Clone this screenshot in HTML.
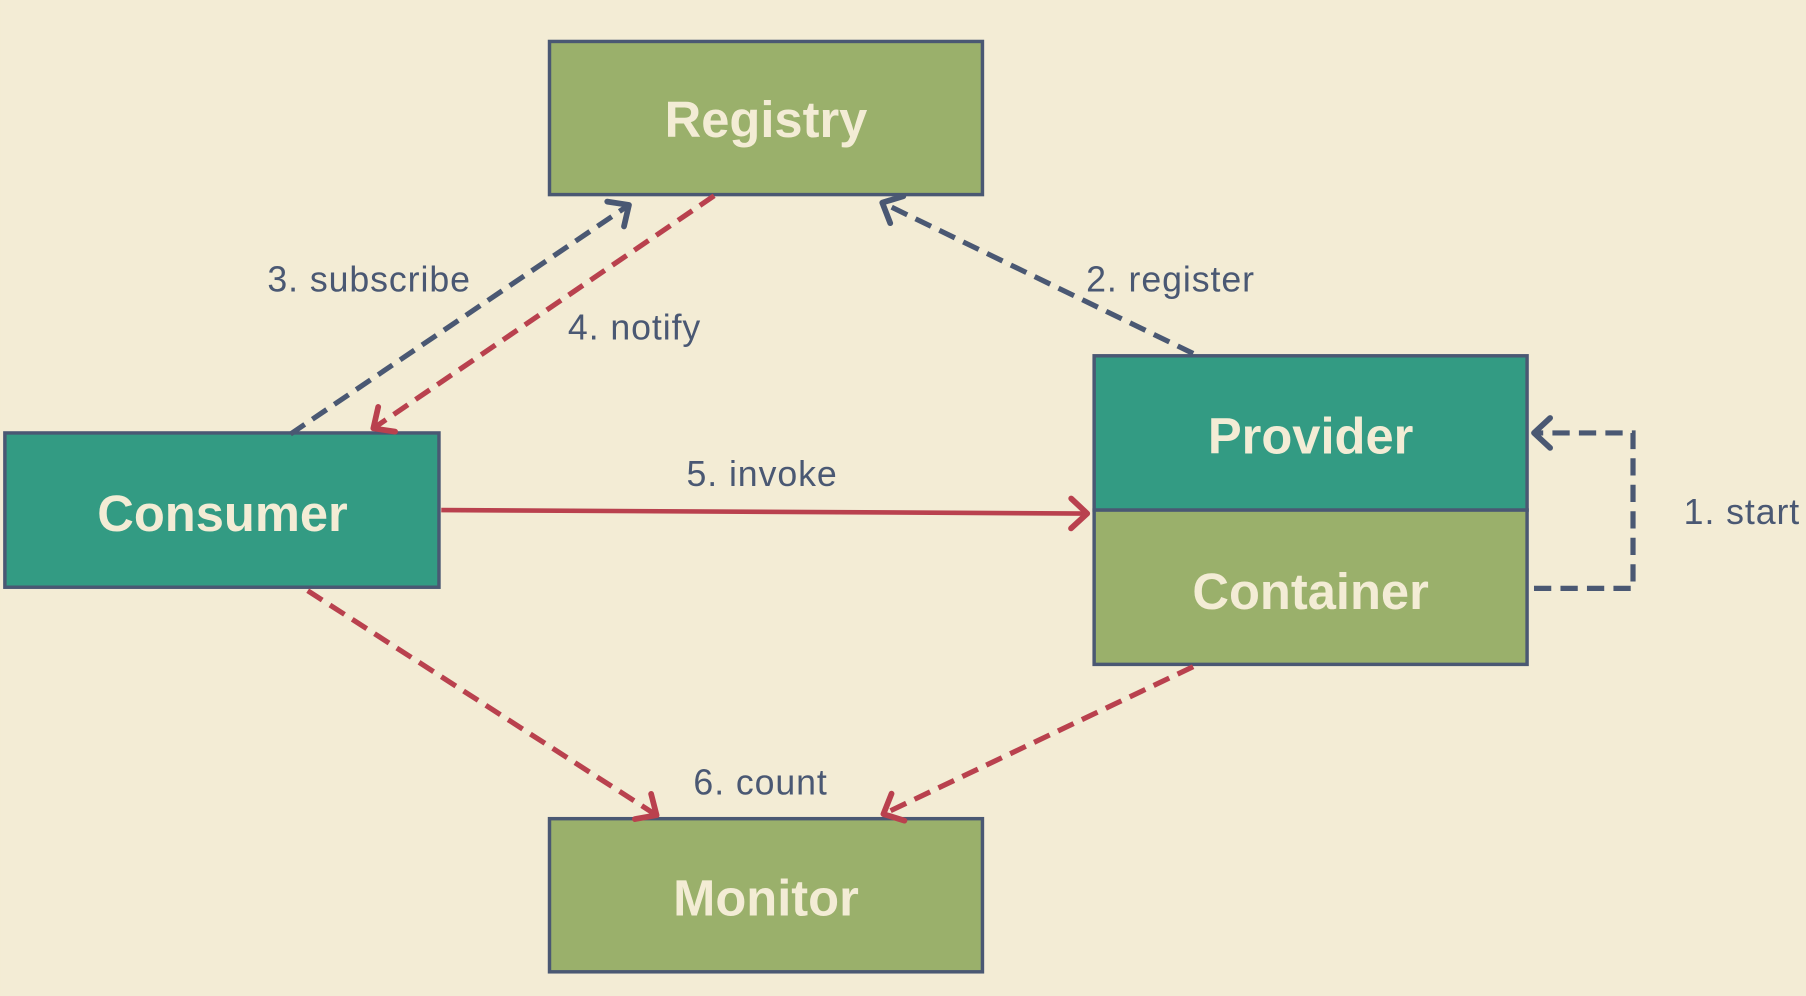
<!DOCTYPE html>
<html><head><meta charset="utf-8"><style>
html,body{margin:0;padding:0;background:#f3ecd5;overflow:hidden}
svg{display:block}
.n{font-family:"Liberation Sans",sans-serif;font-weight:bold;font-size:44px;fill:#f3ecd5;text-anchor:middle}
.l{font-family:"Liberation Sans",sans-serif;font-size:31px;fill:#4a5873;letter-spacing:0.8px}
</style></head><body>
<svg width="1806" height="996" viewBox="0 0 1568 865" xmlns="http://www.w3.org/2000/svg">
<defs>
<marker id="ab" markerWidth="12" markerHeight="12" refX="9" refY="6" orient="auto" markerUnits="userSpaceOnUse" overflow="visible">
<polyline points="-5,-7 9,6 -5,19" fill="none" stroke="#4a5873" stroke-width="5" stroke-linecap="round" stroke-linejoin="round"/>
</marker>
<marker id="ar" markerWidth="12" markerHeight="12" refX="9" refY="6" orient="auto" markerUnits="userSpaceOnUse" overflow="visible">
<polyline points="-5,-7 9,6 -5,19" fill="none" stroke="#b9414e" stroke-width="5" stroke-linecap="round" stroke-linejoin="round"/>
</marker>
</defs>
<rect width="1568" height="865" fill="#f3ecd5"/>
<g stroke="#4a5873" stroke-width="3">
<rect x="477" y="36" width="376" height="133" fill="#9ab06b"/>
<rect x="4" y="376" width="377" height="134" fill="#339b83"/>
<rect x="950" y="309" width="376" height="134" fill="#339b83"/>
<rect x="950" y="443" width="376" height="134" fill="#9ab06b"/>
<rect x="477" y="711" width="376" height="133" fill="#9ab06b"/>
</g>
<text class="n" x="665" y="119">Registry</text>
<text class="n" x="193" y="461">Consumer</text>
<text class="n" x="1138" y="394">Provider</text>
<text class="n" x="1138" y="529">Container</text>
<text class="n" x="665" y="795">Monitor</text>
<g fill="none" stroke-width="4.5" stroke-dasharray="15 8">
<line x1="252" y1="377" x2="546" y2="178" stroke="#4a5873" marker-end="url(#ab)"/>
<line x1="620" y1="170" x2="324" y2="372" stroke="#b9414e" marker-end="url(#ar)"/>
<line x1="1036" y1="307" x2="766" y2="176" stroke="#4a5873" marker-end="url(#ab)"/>
<line x1="267" y1="513" x2="570" y2="708" stroke="#b9414e" marker-end="url(#ar)"/>
<line x1="1036" y1="579" x2="767" y2="707" stroke="#b9414e" marker-end="url(#ar)"/>
<polyline points="1332,511 1418,511 1418,376 1332,376" stroke="#4a5873" marker-end="url(#ab)"/>
</g>
<line x1="383" y1="443" x2="944" y2="446" stroke="#b9414e" stroke-width="4" marker-end="url(#ar)"/>
<text class="l" x="232" y="253">3. subscribe</text>
<text class="l" x="493" y="295">4. notify</text>
<text class="l" x="943" y="253">2. register</text>
<text class="l" x="596" y="422">5. invoke</text>
<text class="l" x="602" y="690">6. count</text>
<text class="l" x="1462" y="455">1. start</text>
</svg>
</body></html>
